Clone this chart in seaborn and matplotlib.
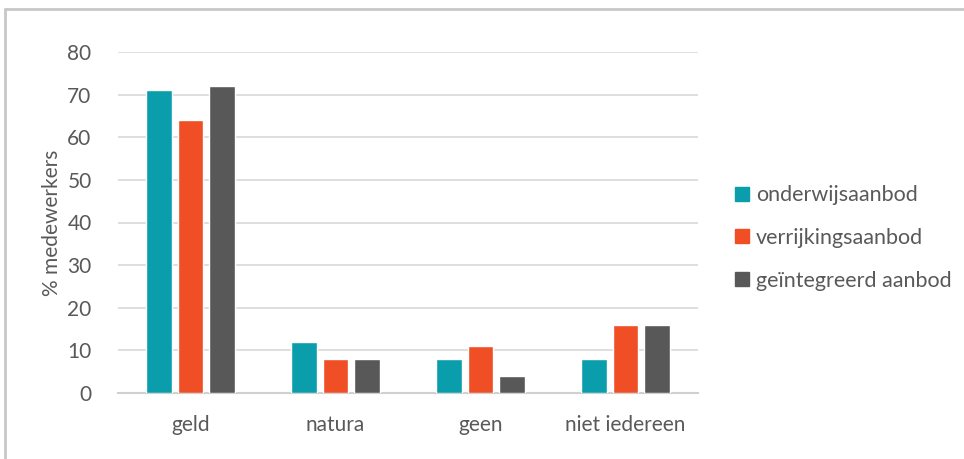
import matplotlib
matplotlib.use("Agg")
import matplotlib.pyplot as plt
import seaborn as sns
import pandas as pd
from matplotlib.lines import Line2D

categories = ["geld", "natura", "geen", "niet iedereen"]
series = ["onderwijsaanbod", "verrijkingsaanbod", "geïntegreerd aanbod"]
onderwijs = [71, 12, 8, 8]
verrijking = [64, 8, 11, 16]
geintegreerd = [72, 8, 4, 16]
colors = ["#0a9dab", "#f04e24", "#585858"]

df = pd.DataFrame({
    "categorie": categories * 3,
    "reeks": [series[0]] * 4 + [series[1]] * 4 + [series[2]] * 4,
    "waarde": onderwijs + verrijking + geintegreerd,
})

sns.set_theme(style="white")
plt.rcParams["font.family"] = ["Lato", "DejaVu Sans"]
textc = "#595959"

fig = plt.figure(figsize=(9.64, 4.59), dpi=100)
ax = fig.add_axes([118/964, 1-393/459, (698-118)/964, (393-52)/459])

sns.barplot(data=df, x="categorie", y="waarde", hue="reeks", palette=colors,
            width=0.66, gap=0.19, ax=ax, legend=False, saturation=1,
            errorbar=None, zorder=3)

ax.set_ylim(0, 80)
ax.set_yticks(range(0, 81, 10))
ax.yaxis.grid(True, color="#d9d9d9", linewidth=1.2, zorder=0)
ax.set_axisbelow(True)
for s in ["top", "right", "left"]:
    ax.spines[s].set_visible(False)
ax.spines["bottom"].set_color("#d0d0d0")
ax.spines["bottom"].set_linewidth(1.5)
ax.tick_params(axis="both", length=0, labelsize=15, colors=textc)
ax.tick_params(axis="y", pad=19)
ax.tick_params(axis="x", pad=16)
ax.set_xlabel("")
ax.set_ylabel("% medewerkers", fontsize=15, color=textc, labelpad=4)

handles = [Line2D([0], [0], marker="s", linestyle="none", markersize=10,
                  markerfacecolor=c, markeredgecolor=c) for c in colors]
fig.legend(handles, series, loc="center left", bbox_to_anchor=(0.752, 1-238/459),
           frameon=False, fontsize=15.5, labelcolor=textc, handletextpad=0.25,
           labelspacing=1.05, borderaxespad=0, handlelength=0.8)

# border of the original box
fig.add_artist(Line2D([5/964, 5/964], [0, 1-9/459], transform=fig.transFigure,
                      color="#c8c8c8", linewidth=2))
fig.add_artist(Line2D([5/964, 1], [1-9/459, 1-9/459], transform=fig.transFigure,
                      color="#c8c8c8", linewidth=2))

fig.savefig("out.png", dpi=100)
